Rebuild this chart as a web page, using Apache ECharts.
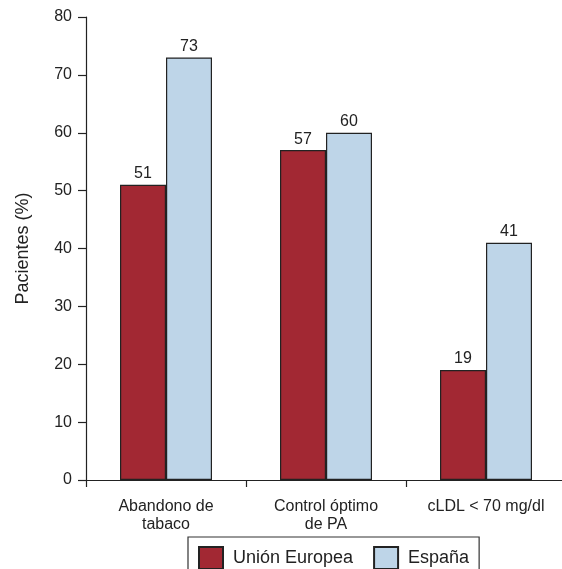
<!DOCTYPE html>
<html>
<head>
<meta charset="utf-8">
<script src="https://cdn.jsdelivr.net/npm/echarts@6/dist/echarts.min.js"></script>
<style>html,body{margin:0;padding:0;background:#fff;overflow:hidden;}#c{width:566px;height:569px;}</style>
</head>
<body>
<div id="c"></div>
<script>
var categories = ['Abandono de\ntabaco', 'Control óptimo\nde PA', 'cLDL < 70 mg/dl'];
var seriesNames = ['Unión Europea', 'España'];
var ueValues = [51, 57, 19];
var espValues = [73, 60, 41];
var yTicks = [0, 10, 20, 30, 40, 50, 60, 70, 80];

var FONT = 'Liberation Sans, Arial, sans-serif';
var chart = echarts.init(document.getElementById('c'), null, {renderer: 'canvas'});
var labelCfg = {show: true, position: 'top', distance: 3, color: '#222', fontSize: 16, fontFamily: FONT};
chart.setOption({
  animation: false,
  backgroundColor: '#fff',
  grid: {left: 86, right: 0, top: 17, bottom: 89, containLabel: false},
  legend: {
    data: seriesNames,
    left: 188, top: 537,
    orient: 'horizontal',
    icon: 'rect',
    itemWidth: 24, itemHeight: 22, itemGap: 20,
    padding: [9, 10, 9, 10],
    borderColor: '#333', borderWidth: 1.2,
    textStyle: {fontSize: 18, fontFamily: FONT, color: '#222', padding: [0, 0, 0, 5]}
  },
  xAxis: {
    type: 'category',
    data: categories,
    axisLine: {lineStyle: {color: '#222', width: 1.2}},
    axisTick: {show: true, length: 7, lineStyle: {color: '#222', width: 1.2}},
    axisLabel: {fontSize: 16, fontFamily: FONT, color: '#222', margin: 18, lineHeight: 18}
  },
  yAxis: {
    type: 'value',
    min: 0, max: 80, interval: 10,
    name: 'Pacientes (%)',
    nameLocation: 'middle',
    nameGap: 54,
    nameTextStyle: {fontSize: 18, fontFamily: FONT, color: '#222'},
    splitLine: {show: false},
    axisLine: {show: true, lineStyle: {color: '#222', width: 1.2}},
    axisTick: {show: true, length: 8, lineStyle: {color: '#222', width: 1.2}},
    axisLabel: {fontSize: 16, fontFamily: FONT, color: '#222', margin: 14,
      formatter: function (v) { return yTicks.indexOf(v) >= 0 ? String(v) : ''; }}
  },
  series: [
    {name: seriesNames[0], type: 'bar', data: ueValues, barGap: '0%', barCategoryGap: '42.5%',
     itemStyle: {color: '#A22833', borderColor: '#222', borderWidth: 1.2}, label: labelCfg},
    {name: seriesNames[1], type: 'bar', data: espValues, barGap: '0%', barCategoryGap: '42.5%',
     itemStyle: {color: '#BED5E8', borderColor: '#222', borderWidth: 1.2}, label: labelCfg}
  ]
});
</script>
</body>
</html>
